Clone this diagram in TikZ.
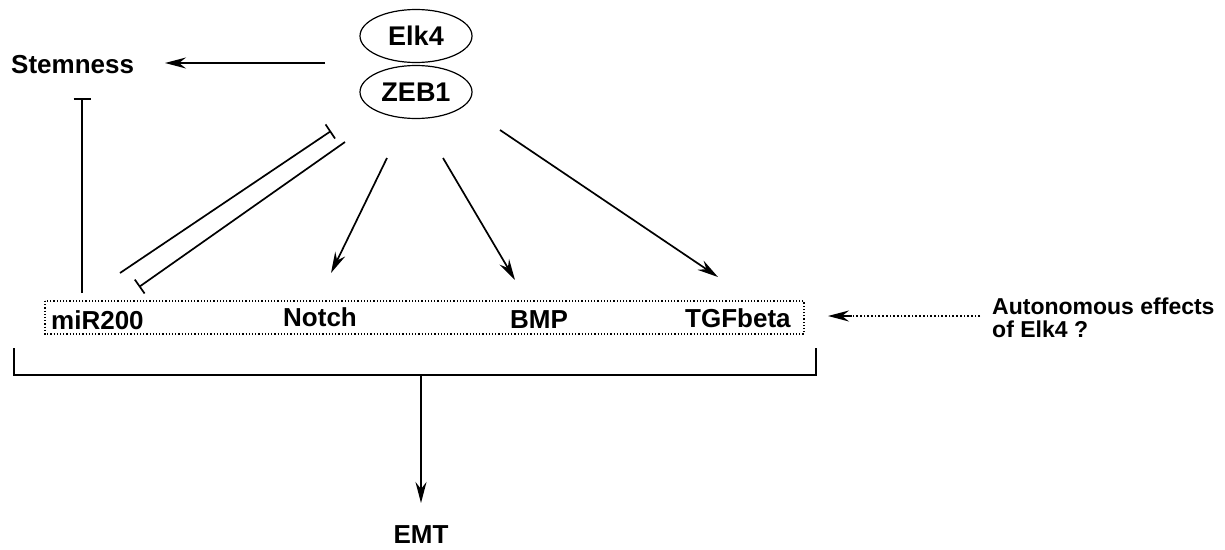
\documentclass[tikz,border=0pt]{standalone}
\usepackage{fontspec}
\setmainfont{Liberation Sans}
\usetikzlibrary{arrows.meta,shapes.geometric}
\begin{document}
\begin{tikzpicture}[x=1pt,y=-1pt,
  lbl/.style={inner sep=0pt,font=\fontsize{26}{28}\selectfont\bfseries},
  ell/.style={draw,ellipse,line width=1.2pt,inner sep=0pt,minimum width=112pt,minimum height=53pt,font=\fontsize{27}{29}\selectfont\bfseries},
  conn/.style={line width=1.7pt},
  act/.style={conn,-{Stealth[length=21pt,width=11pt,inset=7pt]}},
  inh/.style={conn,-{Bar[width=17pt,line width=1.7pt]}},
  dotbox/.style={draw,dotted,line width=1.2pt}
]
\useasboundingbox (0,0) rectangle (1225,549);
% nodes
\node[ell] (elk) at (416,36) {Elk4};
\node[ell] (zeb) at (416,92) {ZEB1};
\node[lbl,anchor=base west] (stem) at (11,73) {Stemness};
\node[lbl,anchor=base west] (mir) at (51,329) {miR200};
\node[lbl,anchor=base west] (notch) at (283,326) {Notch};
\node[lbl,anchor=base west] (bmp) at (510,328) {BMP};
\node[lbl,anchor=base west] (tgf) at (685,327) {TGFbeta};
\node[lbl,anchor=base west,font=\fontsize{23}{22.5}\selectfont\bfseries,align=left] (auto) at (992,337) {Autonomous effects\\of Elk4 ?};
\node[lbl,anchor=base] (emt) at (421,543) {EMT};
% dotted box
\draw[dotbox] (45,301) rectangle (804,334);
% coordinates
\coordinate (stemS) at (325,63);
\coordinate (stemE) at (165,63);
\coordinate (mirTop) at (82,293);
\coordinate (stemBot) at (82,98);
\coordinate (d1a) at (120,273);
\coordinate (d1b) at (331,131);
\coordinate (d2a) at (345,142);
\coordinate (d2b) at (139,287);
\coordinate (nA) at (387,158);
\coordinate (nB) at (331,273);
\coordinate (bA) at (443,158);
\coordinate (bB) at (515,280);
\coordinate (tA) at (500,130);
\coordinate (tB) at (718,277);
\coordinate (aA) at (980,316);
\coordinate (aB) at (828,316);
\coordinate (brL) at (14,348);
\coordinate (brR) at (816,348);
\coordinate (brM) at (421,375);
\coordinate (emtTip) at (421,503);
% connectors
\draw[act] (stemS) -- (stemE);
\draw[inh] (mirTop) -- (stemBot);
\draw[inh] (d1a) -- (d1b);
\draw[inh] (d2a) -- (d2b);
\draw[act] (nA) -- (nB);
\draw[act] (bA) -- (bB);
\draw[act] (tA) -- (tB);
\draw[conn,dotted,line width=1.3pt] (aA) -- (850,316);
\draw[act] (852,316) -- (aB);
\draw[conn] (brL) -- (14,375) -- (816,375) -- (brR);
\draw[act] (brM) -- (emtTip);
\end{tikzpicture}
\end{document}
